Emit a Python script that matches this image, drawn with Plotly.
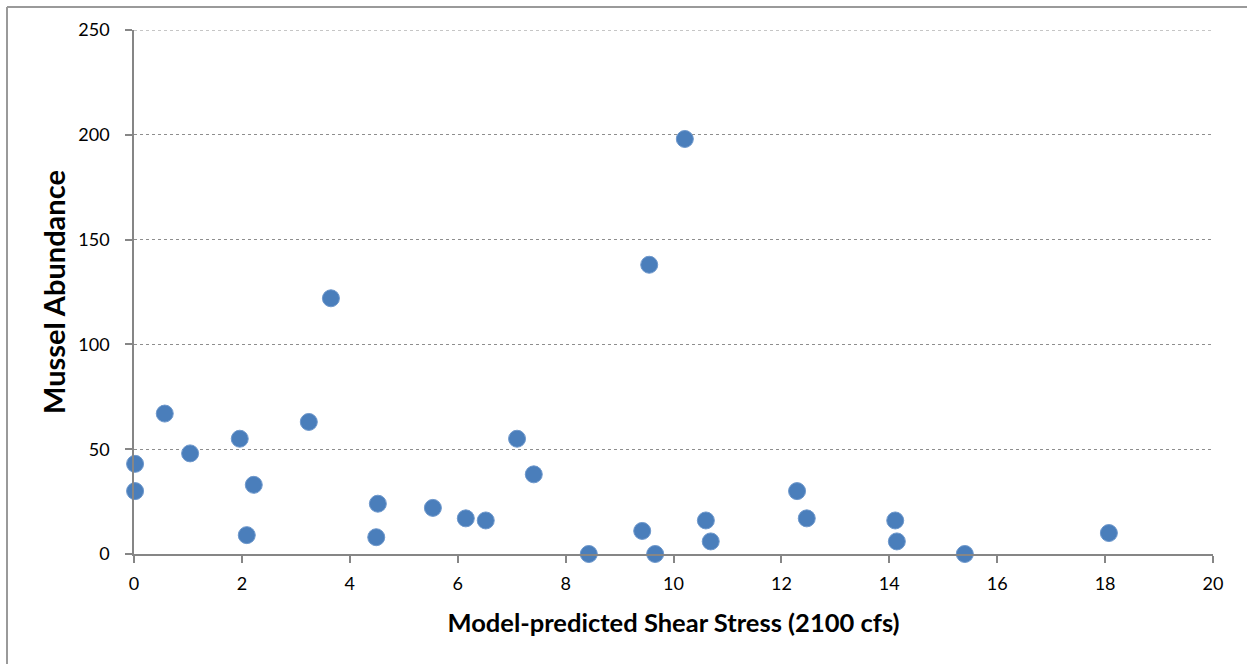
import plotly.graph_objects as go

shear_stress = [0.02, 0.02, 0.57, 1.04, 1.96, 2.09, 2.22, 3.24, 3.65, 4.49, 4.52,
                5.54, 6.15, 6.52, 7.10, 7.41, 8.43, 9.42, 9.55, 9.66, 10.21,
                10.60, 10.69, 12.29, 12.47, 14.11, 14.14, 15.40, 18.07]
abundance = [43, 30, 67, 48, 55, 9, 33, 63, 122, 8, 24,
             22, 17, 16, 55, 38, 0, 11, 138, 0, 198,
             16, 6, 30, 17, 16, 6, 0, 10]

x_ticks = [0, 2, 4, 6, 8, 10, 12, 14, 16, 18, 20]
y_ticks = [0, 50, 100, 150, 200, 250]

FONT = "Lato, Calibri, sans-serif"
AXIS = "#868686"
GRID = "#8E8E8E"

fig = go.Figure()
fig.add_trace(go.Scatter(
    x=shear_stress, y=abundance, mode="markers",
    marker=dict(size=17, color="#4A7EBB", line=dict(width=1, color="#6E98CC")),
    cliponaxis=False, hoverinfo="x+y"))

fig.update_layout(
    width=1247, height=664,
    margin=dict(l=134, r=34, t=30, b=110),
    paper_bgcolor="white", plot_bgcolor="white",
    showlegend=False,
    font=dict(family=FONT, color="black", size=18),
    xaxis=dict(
        range=[0, 20], tickvals=x_ticks, ticktext=[str(v) for v in x_ticks],
        showgrid=False, zeroline=False,
        showline=True, linecolor=AXIS, linewidth=1.5,
        ticks="outside", ticklen=7, tickcolor=AXIS, tickwidth=1.5,
        ticklabelstandoff=6,
        tickfont=dict(size=18, family=FONT),
        title=dict(text="<b>Model-predicted Shear Stress (2100 cfs)</b>",
                   font=dict(size=25.5, family=FONT), standoff=21),
    ),
    yaxis=dict(
        range=[0, 250], tickvals=y_ticks, ticktext=[str(v) for v in y_ticks],
        showgrid=True, gridcolor=GRID, griddash="dot", gridwidth=1,
        zeroline=False,
        showline=True, linecolor=AXIS, linewidth=1.5,
        ticks="outside", ticklen=7, tickcolor=AXIS, tickwidth=1.5,
        ticklabelstandoff=12,
        tickfont=dict(size=18, family=FONT),
        title=dict(text="<b>Mussel Abundance</b>",
                   font=dict(size=29, family=FONT), standoff=4),
    ),
)

# top gridline at the range edge (y = 250)
fig.add_shape(type="line", xref="paper", yref="y",
              x0=0, x1=1, y0=y_ticks[-1], y1=y_ticks[-1],
              line=dict(color=GRID, width=1, dash="dot"))

# outer chart border (left and top visible)
fig.add_shape(type="line", xref="paper", yref="paper",
              x0=(7 - 134) / 1079, x1=(7 - 134) / 1079,
              y0=(554 - 7) / 524, y1=(554 - 700) / 524,
              line=dict(color="#9A9A9A", width=2))
fig.add_shape(type="line", xref="paper", yref="paper",
              x0=(7 - 134) / 1079, x1=(1260 - 134) / 1079,
              y0=(554 - 7) / 524, y1=(554 - 7) / 524,
              line=dict(color="#9A9A9A", width=2))

fig.write_html("out.html")
